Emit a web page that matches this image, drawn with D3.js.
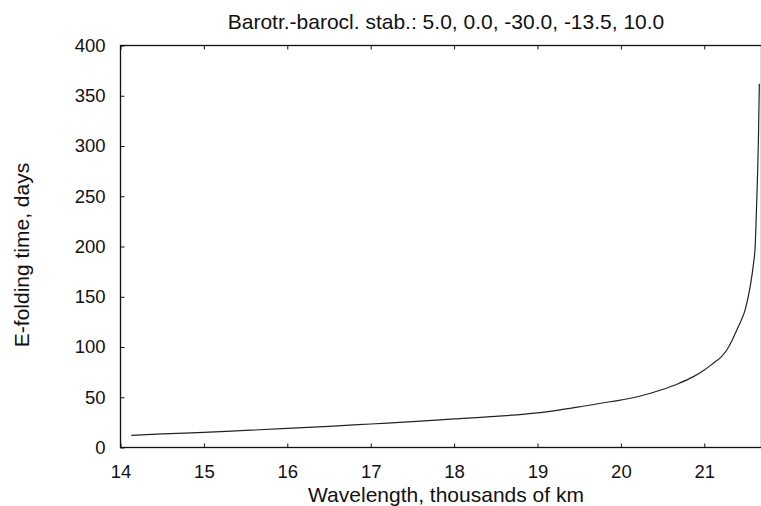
<!DOCTYPE html>
<html>
<head>
<meta charset="utf-8">
<script src="https://cdn.jsdelivr.net/npm/d3@7"></script>
<style>
  html, body { margin: 0; padding: 0; background: #fff; }
  svg { display: block; }
  text { font-family: "Liberation Sans", Arial, sans-serif; fill: #111; }
</style>
</head>
<body>
<svg id="chart" width="761" height="506"></svg>
<script>
// Growth curve: wavelength (thousands of km) vs e-folding time (days)
const wavelength = [14.13, 14.5, 15.0, 15.5, 16.0, 16.5, 17.0, 17.5, 18.0, 18.5, 19.0, 19.27,
  19.5, 19.87, 20.2, 20.47, 20.7, 20.87, 21.0, 21.11, 21.2, 21.27, 21.33, 21.39,
  21.44, 21.49, 21.55, 21.59, 21.61, 21.625, 21.64, 21.65, 21.66];
const efoldDays = [12, 13.5, 15, 17, 19, 21, 23.4, 25.8, 28.4, 31, 34.5, 37.5,
  40.5, 45.5, 50.5, 57, 64, 70.5, 77, 84, 90, 97, 106, 117,
  126, 137, 160, 183, 200, 235, 275, 310, 362];

const xTicks = [14, 15, 16, 17, 18, 19, 20, 21];
const yTicks = [0, 50, 100, 150, 200, 250, 300, 350, 400];

const titleText = "Barotr.-barocl. stab.: 5.0, 0.0, -30.0, -13.5, 10.0";
const xLabel = "Wavelength, thousands of km";
const yLabel = "E-folding time, days";

const svg = d3.select("#chart");
const mLeft = 120.5, mRight = 761.5, mTop = 45.5, mBottom = 447.5;

const x = d3.scaleLinear().domain([14, 21.686]).range([mLeft, mRight]);
const y = d3.scaleLinear().domain([0, 400]).range([mBottom, mTop]);

const tickLen = 4;
const tickFont = 18.5;
const labelFont = 21;

// frame
svg.append("rect")
  .attr("x", mLeft).attr("y", mTop)
  .attr("width", mRight - mLeft).attr("height", mBottom - mTop)
  .attr("fill", "none").attr("stroke", "#111").attr("stroke-width", 1.3);

// bottom axis (ticks inward)
const xAxis = svg.append("g").attr("transform", `translate(0,${mBottom})`)
  .call(d3.axisBottom(x).tickValues(xTicks).tickSize(-tickLen).tickPadding(17.5).tickFormat(d3.format("d")));
xAxis.select(".domain").remove();
xAxis.selectAll("text").attr("font-size", tickFont).attr("font-family", "Liberation Sans, Arial, sans-serif").attr("fill", "#111");
xAxis.selectAll("line").attr("stroke", "#111");

// top axis ticks
const xTop = svg.append("g").attr("transform", `translate(0,${mTop})`)
  .call(d3.axisTop(x).tickValues(xTicks).tickSize(-tickLen).tickFormat(""));
xTop.select(".domain").remove();
xTop.selectAll("line").attr("stroke", "#111");

// left axis (ticks inward)
const yAxis = svg.append("g").attr("transform", `translate(${mLeft},0)`)
  .call(d3.axisLeft(y).tickValues(yTicks).tickSize(-tickLen).tickPadding(15).tickFormat(d3.format("d")));
yAxis.select(".domain").remove();
yAxis.selectAll("text").attr("font-size", tickFont).attr("font-family", "Liberation Sans, Arial, sans-serif").attr("fill", "#111");
yAxis.selectAll("line").attr("stroke", "#111");

// curve
const pts = wavelength.map((w, i) => [w, efoldDays[i]]);
svg.append("path")
  .datum(pts)
  .attr("fill", "none")
  .attr("stroke", "#222")
  .attr("stroke-width", 1.2)
  .attr("d", d3.line().x(d => x(d[0])).y(d => y(d[1])).curve(d3.curveMonotoneX));

// title and axis labels
svg.append("text")
  .attr("x", 446).attr("y", 29)
  .attr("text-anchor", "middle").attr("font-size", labelFont)
  .text(titleText);

svg.append("text")
  .attr("x", 446).attr("y", 502)
  .attr("text-anchor", "middle").attr("font-size", labelFont)
  .text(xLabel);

svg.append("text")
  .attr("transform", `translate(29,255) rotate(-90)`)
  .attr("text-anchor", "middle").attr("font-size", labelFont)
  .text(yLabel);
</script>
</body>
</html>
